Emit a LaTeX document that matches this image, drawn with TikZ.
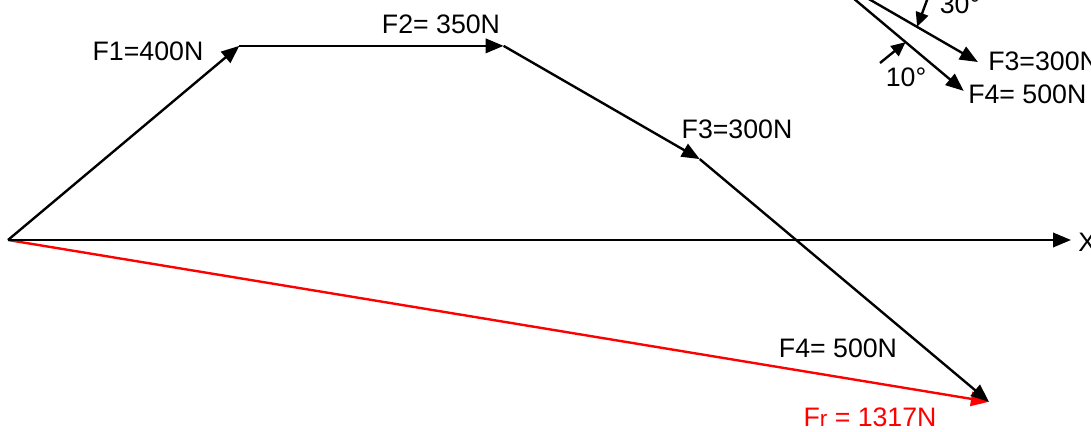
\documentclass[tikz,border=0pt]{standalone}
\usepackage{fontspec}
\setmainfont{Liberation Sans}
\usetikzlibrary{arrows.meta,calc}

\begin{document}
\begin{tikzpicture}[x=0.025cm, y=0.025cm, font=\fontsize{19}{22}\selectfont,
    force/.style={line width=1.7pt, -{Triangle[length=0.45cm, width=0.36cm]}},
    angleArrow/.style={line width=1.7pt, -{Triangle[length=0.36cm, width=0.32cm]}},
    lbl/.style={inner sep=0pt}]
    \definecolor{resultColour}{HTML}{FF0000}

    \def\sc{0.755}

    \useasboundingbox (0,0) rectangle (1091,432);
    \clip (0,0) rectangle (1091,432);

    \coordinate (O) at (8,192);
    \path (O) ++(40:{400*\sc}) coordinate (A)
              ++(0:{350*\sc}) coordinate (B)
              ++(-30:{300*\sc}) coordinate (C)
              ++(-40:{500*\sc}) coordinate (D);
    \coordinate (Xend) at (1071,192);

    \draw[force, color=resultColour] (O) -- (D);
    \draw[force] (O) -- (Xend);
    \draw[force] (O) -- (A);
    \draw[force] (A) -- (B);
    \draw[force] (B) -- (C);
    \draw[force] (C) -- (D);

    \node[lbl, anchor=west] (xLabel) at (1078,190) {X};
    \node[lbl] (f1Label) at (148,381) {F1=400N};
    \node[lbl] (f2Label) at (441,408) {F2= 350N};
    \node[lbl] (f3Label) at (737,303) {F3=300N};
    \node[lbl] (f4Label) at (838,84) {F4= 500N};
    \node[lbl, text=resultColour] (frLabel) at (870,15) {F{\fontsize{16}{19}\selectfont r} = 1317N};

    \coordinate (P) at (822,460);
    \path (P) ++(-30:180) coordinate (E3);
    \path (P) ++(-40:185) coordinate (E4);
    \draw[force] (P) -- (E3);
    \draw[force] (P) -- (E4);

    \coordinate (t30) at ($(P)!0.61!(E3)$);
    \coordinate (t10) at ($(P)!0.59!(E4)$);
    \coordinate (s30) at (930,440);
    \coordinate (s10) at (880,369);
    \draw[angleArrow] (s30) -- (t30);
    \draw[angleArrow] (s10) -- (t10);

    \node[lbl] (ang30) at (960,428) {30°};
    \node[lbl] (ang10) at (906,355) {10°};
    \node[lbl, anchor=west] (f3Inset) at (988,371) {F3=300N};
    \node[lbl, anchor=west] (f4Inset) at (968,338) {F4= 500N};

\end{tikzpicture}
\end{document}
